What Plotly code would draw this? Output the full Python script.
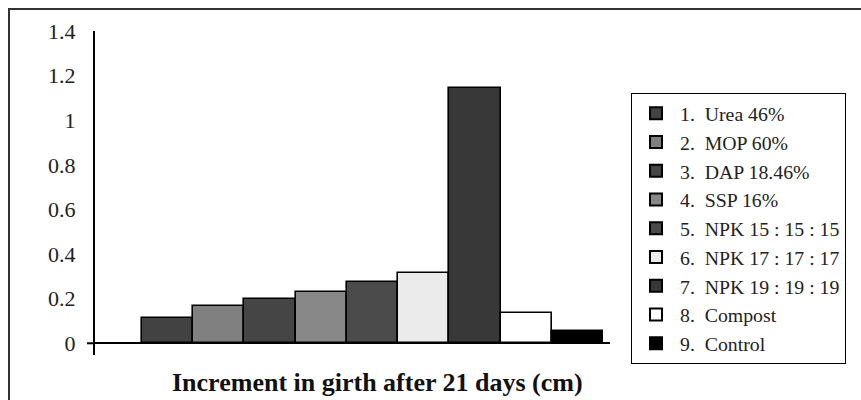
import plotly.graph_objects as go

categories = ["1.  Urea 46%", "2.  MOP 60%", "3.  DAP 18.46%", "4.  SSP 16%",
              "5.  NPK 15 : 15 : 15", "6.  NPK 17 : 17 : 17", "7.  NPK 19 : 19 : 19",
              "8.  Compost", "9.  Control"]
values = [0.115, 0.165, 0.198, 0.229, 0.274, 0.317, 1.146, 0.137, 0.057]
colors = ["#424242", "#808080", "#454545", "#888888", "#4b4b4b", "#ebebeb",
          "#383838", "#ffffff", "#000000"]
y_ticks = [0, 0.2, 0.4, 0.6, 0.8, 1, 1.2, 1.4]
y_tick_labels = ["0", "0.2", "0.4", "0.6", "0.8", "1", "1.2", "1.4"]
x_title = "Increment in girth after 21 days (cm)"

FONT = "Liberation Serif, Times New Roman, serif"

fig = go.Figure()
for i, (cat, val, col) in enumerate(zip(categories, values, colors)):
    fig.add_trace(go.Bar(
        x=[cat], y=[val], name=cat,
        marker=dict(color=col, line=dict(color="#000000", width=1.6)),
        showlegend=True,
    ))

# plot area geometry (pixels)
L, R, T, B = 95, 251, 31, 45
W, H = 861, 400
pw, ph = W - L - R, H - T - B

def px(xp):
    return (xp - L) / pw

def py(yp):
    return (H - B - yp) / ph

fig.update_layout(
    width=W, height=H,
    margin=dict(l=L, r=R, t=T, b=B, pad=0),
    paper_bgcolor="white", plot_bgcolor="white",
    barmode="overlay", bargap=0,
    font=dict(family=FONT, size=21, color="#222222"),
    showlegend=True,
    legend=dict(
        x=px(631), y=py(93), xanchor="left", yanchor="top",
        bgcolor="white", bordercolor="#000000", borderwidth=1,
        font=dict(family=FONT, size=19.8, color="#222222"),
        traceorder="normal",
        itemsizing="constant", itemwidth=38,
    ),
    xaxis=dict(
        type="category", categoryorder="array", categoryarray=categories,
        range=[-1.418, 8.637], showticklabels=False, showgrid=False,
        zeroline=False, showline=False, ticks="", fixedrange=True,
    ),
    yaxis=dict(
        range=[-0.0525, 1.4], tickvals=y_ticks, ticktext=y_tick_labels,
        showgrid=False, zeroline=True, zerolinecolor="#000000", zerolinewidth=2,
        showline=True, linecolor="#000000", linewidth=2.2, ticks="",
        ticklabelstandoff=13,
        tickfont=dict(family=FONT, size=22, color="#222222"),
    ),
    annotations=[dict(
        text="<b>" + x_title + "</b>", xref="paper", yref="paper",
        x=px(377), y=py(382), xanchor="center", yanchor="middle",
        showarrow=False, font=dict(family=FONT, size=26, color="#111111"),
    )],
    shapes=[
        # outer frame
        dict(type="rect", xref="paper", yref="paper",
             x0=px(9), x1=px(880), y0=py(9), y1=py(420),
             line=dict(color="#333333", width=2), fillcolor="rgba(0,0,0,0)", layer="above"),
        # small tick at zero extending left of the y axis
        dict(type="line", xref="paper", yref="y",
             x0=px(87), x1=px(95), y0=0, y1=0,
             line=dict(color="#000000", width=2)),
    ],
)

fig.write_html("out.html", config={"displayModeBar": False},
               post_script="document.body.style.margin='0';")
